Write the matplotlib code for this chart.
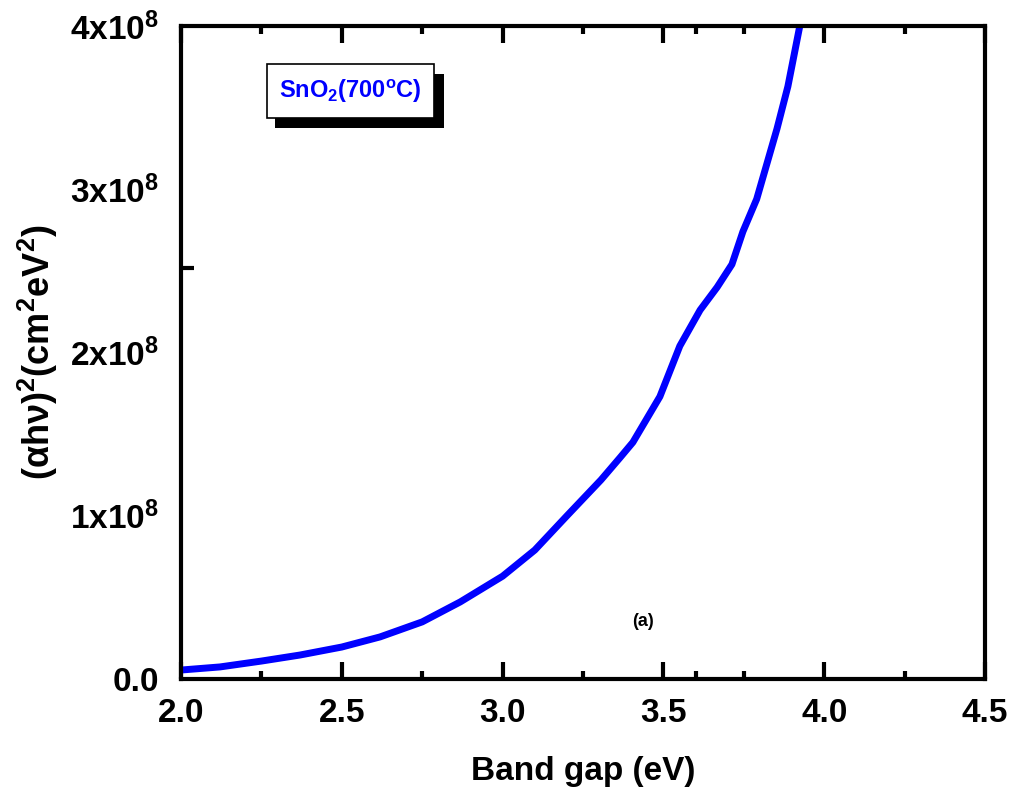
import matplotlib
matplotlib.use("Agg")
import matplotlib.pyplot as plt
from matplotlib.patches import Rectangle
from matplotlib.ticker import FixedLocator

plt.rcParams['font.family'] = ['Liberation Sans', 'DejaVu Sans']
plt.rcParams['font.weight'] = 'bold'
plt.rcParams['mathtext.fontset'] = 'custom'
plt.rcParams['mathtext.rm'] = 'Liberation Sans:bold'
plt.rcParams['mathtext.bf'] = 'Liberation Sans:bold'
plt.rcParams['mathtext.it'] = 'Liberation Sans:bold'

# Data
energy = [2.00, 2.121, 2.25, 2.37, 2.50, 2.619, 2.75, 2.868, 3.00, 3.10, 3.20, 3.306,
          3.365, 3.405, 3.489, 3.551, 3.614, 3.667, 3.713, 3.747, 3.790, 3.853, 3.887, 3.924]
alpha_hv2 = [5.5e6, 7.4e6, 1.1e7, 1.47e7, 1.96e7, 2.58e7, 3.5e7, 4.72e7, 6.3e7, 7.9e7, 1.0e8, 1.22e8,
             1.356e8, 1.45e8, 1.73e8, 2.04e8, 2.26e8, 2.40e8, 2.54e8, 2.74e8, 2.94e8, 3.37e8, 3.63e8, 4.0e8]

x_major = [2.0, 2.5, 3.0, 3.5, 4.0, 4.5]
x_minor = [2.25, 2.75, 3.25, 3.6, 3.75, 4.25]
y_ticks = [0, 1e8, 2e8, 3e8, 4e8]
y_ticklabels = ['0.0', '1x10$^{8}$', '2x10$^{8}$', '3x10$^{8}$', '4x10$^{8}$']
y_minor = [2.52e8]

fig = plt.figure(figsize=(10.13, 7.88), dpi=100)
ax = fig.add_axes([0.1787, 0.1383, 0.7937, 0.8287])

ax.plot(energy, alpha_hv2, color='#0000ff', lw=5, solid_capstyle='butt', solid_joinstyle='round')
ax.set_xlim(2.0, 4.5)
ax.set_ylim(0, 4e8)

for s in ax.spines.values():
    s.set_linewidth(3)

ax.xaxis.set_major_locator(FixedLocator(x_major))
ax.xaxis.set_minor_locator(FixedLocator(x_minor))
ax.set_xticklabels(['2.0', '2.5', '3.0', '3.5', '4.0', '4.5'])
ax.set_yticks(y_ticks)
ax.set_yticklabels(y_ticklabels)
ax.yaxis.set_minor_locator(FixedLocator(y_minor))

ax.tick_params(axis='x', which='major', direction='in', length=12, width=3,
               top=True, labelsize=24, pad=14)
ax.tick_params(axis='x', which='minor', direction='in', length=6, width=3, top=True)
ax.tick_params(axis='y', which='major', direction='in', length=0, labelsize=24, pad=16)
ax.tick_params(axis='y', which='minor', direction='in', length=9, width=3)

ax.set_xlabel('Band gap (eV)', fontsize=24, fontweight='bold', labelpad=19)
ax.set_ylabel('(\u03b1h\u03bd)$^{2}$(cm$^{2}$eV$^{2}$)', fontsize=26, fontweight='bold', labelpad=7)

# Legend-like box with shadow
ax.add_patch(Rectangle((0.117, 0.8436), 0.210, 0.083, transform=ax.transAxes,
                       facecolor='black', edgecolor='black', lw=0, zorder=4))
ax.add_patch(Rectangle((0.107, 0.859), 0.2077, 0.083, transform=ax.transAxes,
                       facecolor='white', edgecolor='black', lw=1.2, zorder=5))
ax.text(0.211, 0.900, 'SnO$_{2}$(700$^{\\mathrm{o}}$C)', transform=ax.transAxes,
        color='#0000ff', fontsize=17, fontweight='bold', ha='center', va='center', zorder=6)

ax.text(0.575, 0.088, '(a)', transform=ax.transAxes, fontsize=13, fontweight='bold',
        ha='center', va='center')

fig.savefig('out.png', dpi=100)
